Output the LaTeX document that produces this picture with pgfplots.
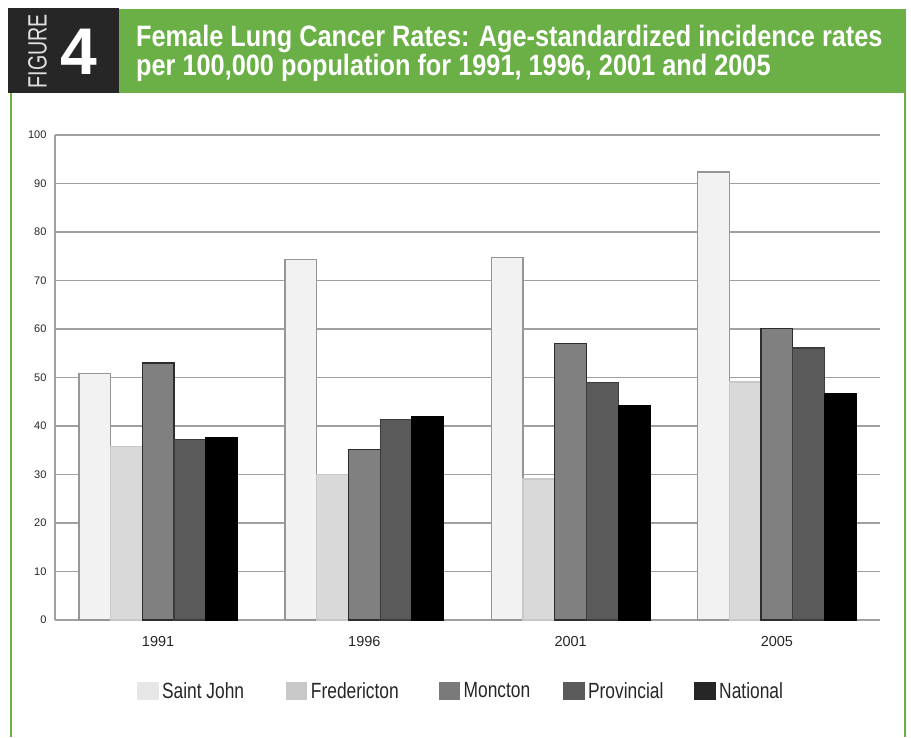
\documentclass[border=0pt]{standalone}
\usepackage{fontspec}
\setmainfont{Liberation Sans}
\newfontfamily\condfont{Liberation Sans}[FakeStretch=0.79]
\newfontfamily\figfont{Liberation Sans}[FakeStretch=0.74]
\newfontfamily\titlefont{Liberation Sans Bold}[FakeStretch=0.858]
\usepackage{pgfplots}
\pgfplotsset{compat=1.18}

\definecolor{hdrgreen}{RGB}{106,176,70}
\definecolor{hdrdark}{RGB}{38,38,38}
\definecolor{figgray}{RGB}{225,225,225}
\definecolor{gridgray}{RGB}{160,160,160}
% bar fills / outlines
\definecolor{cSJ}{RGB}{242,242,242}
\definecolor{dSJ}{RGB}{150,150,150}
\definecolor{cFR}{RGB}{217,217,217}
\definecolor{dFR}{RGB}{200,200,200}
\definecolor{cMO}{RGB}{128,128,128}
\definecolor{dMO}{RGB}{45,45,45}
\definecolor{cPR}{RGB}{90,90,90}
\definecolor{dPR}{RGB}{60,60,60}
% legend squares
\definecolor{lSJ}{RGB}{230,230,230}
\definecolor{lFR}{RGB}{200,200,200}
\definecolor{lMO}{RGB}{122,122,122}
\definecolor{lPR}{RGB}{90,90,90}
\definecolor{lNA}{RGB}{38,38,38}

\begin{document}
\begin{tikzpicture}
\useasboundingbox (0pt,0pt) rectangle (911pt,-737pt);
% header
\fill[hdrdark] (8pt,-8pt) rectangle (119pt,-93pt);
\fill[hdrgreen] (119pt,-9pt) rectangle (906pt,-93pt);
\draw[hdrgreen, line width=2.5pt] (11pt,-93pt) -- (11pt,-737pt);
\draw[hdrgreen, line width=2.5pt] (905pt,-93pt) -- (905pt,-737pt);
\node[rotate=90, inner sep=0pt, text=figgray, font=\figfont\fontsize{26.5}{30}\selectfont] at (37.5pt,-51pt) {FIGURE};
\node[inner sep=0pt, text=white, font=\fontsize{66}{70}\selectfont\bfseries] at (78.5pt,-51.5pt) {4};
% base anchor of a two-line node sits on the last line
\node[anchor=base west, inner sep=0pt, text=white, align=left,
  font=\titlefont\fontsize{29.5}{29}\selectfont] at (136pt,-75.5pt)
  {Female Lung Cancer Rates: Age-standardized incidence rates\\per 100,000 population for 1991, 1996, 2001 and 2005};

\begin{axis}[
  at={(55pt,-620pt)}, anchor=south west,
  width=825pt, height=485pt, scale only axis,
  xmin=0, xmax=4, ymin=0, ymax=100,
  ytick={0,10,...,100},
  xtick={0.5,1.5,2.5,3.5},
  xticklabels={1991,1996,2001,2005},
  axis lines=left,
  axis line style={-, draw=gridgray, line width=1.3pt},
  ymajorgrids,
  grid style={draw=gridgray, line width=1.3pt},
  major tick length=0pt,
  /pgf/number format/assume math mode=true,
  yticklabel style={font=\fontsize{11}{13}\selectfont, text=black!85, xshift=-5pt},
  xticklabel style={font=\fontsize{14.5}{17}\selectfont, text=black!85, yshift=-13pt},
  ybar=0pt, bar width=31.7pt,
  legend columns=5,
  legend cell align=left,
  legend style={at={(axis description cs:0.0994,-0.146)}, anchor=west,
    draw=none, fill=none, inner sep=0pt,
    font=\condfont\fontsize{22}{26}\selectfont, text=black!85,
    nodes={inner xsep=3.5pt, inner ysep=2pt},
    /tikz/column 2/.style={column sep=38.5pt},
    /tikz/column 4/.style={column sep=36.5pt},
    /tikz/column 6/.style={column sep=29.5pt},
    /tikz/column 8/.style={column sep=27.5pt}},
]
\addplot[fill=cSJ, draw=dSJ, line width=1.3pt,
  legend image code/.code={\fill[lSJ] (0pt,-8.5pt) rectangle (20pt,8.5pt);}]
  coordinates {(0.5,50.8) (1.5,74.4) (2.5,74.8) (3.5,92.4)};
\addplot[fill=cFR, draw=dFR, line width=1.3pt,
  legend image code/.code={\fill[lFR] (0pt,-8.5pt) rectangle (20pt,8.5pt);}]
  coordinates {(0.5,35.8) (1.5,30.0) (2.5,29.1) (3.5,49.1)};
\addplot[fill=cMO, draw=dMO, line width=1.3pt,
  legend image code/.code={\fill[lMO] (0pt,-8.5pt) rectangle (20pt,8.5pt);}]
  coordinates {(0.5,53.0) (1.5,35.1) (2.5,57.0) (3.5,60.1)};
\addplot[fill=cPR, draw=dPR, line width=1.3pt,
  legend image code/.code={\fill[lPR] (0pt,-8.5pt) rectangle (20pt,8.5pt);}]
  coordinates {(0.5,37.2) (1.5,41.4) (2.5,48.9) (3.5,56.1)};
\addplot[fill=black, draw=black, line width=1.3pt,
  legend image code/.code={\fill[lNA] (0pt,-8.5pt) rectangle (20pt,8.5pt);}]
  coordinates {(0.5,37.6) (1.5,41.9) (2.5,44.3) (3.5,46.7)};
\legend{Saint John, Fredericton, Moncton, Provincial, National}
\end{axis}
\end{tikzpicture}
\end{document}
